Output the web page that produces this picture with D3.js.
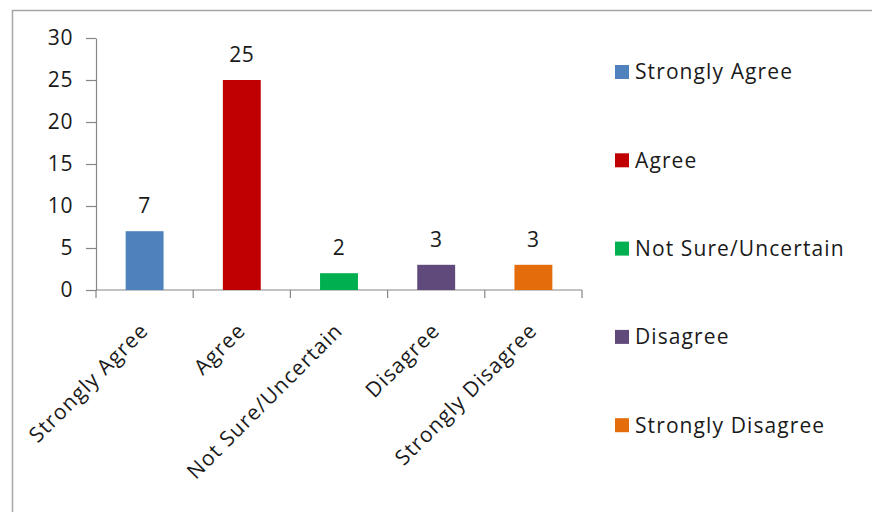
<!DOCTYPE html>
<html>
<head>
<meta charset="utf-8">
<script src="https://cdn.jsdelivr.net/npm/d3@7"></script>
<style>
  html, body { margin: 0; padding: 0; background: #fff; }
  svg { display: block; }
  text { font-family: "Open Sans", "DejaVu Sans", sans-serif; fill: #1a1a1a; }
</style>
</head>
<body>
<svg id="chart" width="872" height="512"></svg>
<script>
// Survey responses per answer option
const categories = ["Strongly Agree", "Agree", "Not Sure/Uncertain", "Disagree", "Strongly Disagree"];
const counts = [7, 25, 2, 3, 3];
const colors = ["#4F81BD", "#C00000", "#00B050", "#604A7B", "#E46C0A"];
const yTicks = [0, 5, 10, 15, 20, 25, 30];

const svg = d3.select("#chart");
const fontSize = 21;

// chart frame
svg.append("rect")
  .attr("x", 12.5).attr("y", 10.5)
  .attr("width", 900).attr("height", 600)
  .attr("fill", "none").attr("stroke", "#a6a6a6").attr("stroke-width", 1.5);

const plot = { left: 96, right: 582, top: 38, bottom: 290 };

const x = d3.scaleBand()
  .domain(categories)
  .range([plot.left, plot.right])
  .paddingInner(0.61)
  .paddingOuter(0.305);

const y = d3.scaleLinear()
  .domain([0, 30])
  .range([plot.bottom, plot.top]);

// y axis
const yAxis = svg.append("g")
  .attr("transform", `translate(${plot.left},0)`)
  .call(d3.axisLeft(y).tickValues(yTicks).tickSize(10).tickPadding(13).tickSizeOuter(0));
yAxis.select(".domain").attr("stroke", "#868686").attr("stroke-width", 1.2);
yAxis.selectAll(".tick line").attr("stroke", "#868686").attr("stroke-width", 1.2);
yAxis.selectAll(".tick text")
  .attr("font-size", fontSize)
  .attr("font-family", "Open Sans, sans-serif")
  .attr("letter-spacing", 0.6)
  .attr("fill", "#1a1a1a");

// x axis line and category boundary ticks
const xAxisG = svg.append("g").attr("class", "x-axis");
xAxisG.append("line")
  .attr("x1", plot.left).attr("x2", plot.right)
  .attr("y1", y(0)).attr("y2", y(0))
  .attr("stroke", "#868686").attr("stroke-width", 1.2);
const step = x.step();
const boundaries = d3.range(categories.length + 1).map(i => plot.left + i * step);
xAxisG.selectAll("line.tick")
  .data(boundaries)
  .join("line")
  .attr("class", "tick")
  .attr("x1", d => d).attr("x2", d => d)
  .attr("y1", y(0)).attr("y2", y(0) + 8)
  .attr("stroke", "#868686").attr("stroke-width", 1.2);

// category labels, rotated
xAxisG.selectAll("text.cat")
  .data(categories)
  .join("text")
  .attr("class", "cat")
  .attr("font-size", fontSize)
  .attr("letter-spacing", 1.1)
  .attr("text-anchor", "end")
  .attr("transform", d => `translate(${x(d) + x.bandwidth() / 2 + 5},${y(0) + 42}) rotate(-45)`)
  .text(d => d);

// bars
const data = categories.map((c, i) => ({ cat: c, value: counts[i], color: colors[i] }));
svg.append("g").selectAll("rect")
  .data(data)
  .join("rect")
  .attr("x", d => x(d.cat))
  .attr("width", x.bandwidth())
  .attr("y", d => y(d.value))
  .attr("height", d => y(0) - y(d.value))
  .attr("fill", d => d.color);

// value labels
svg.append("g").selectAll("text")
  .data(data)
  .join("text")
  .attr("x", d => x(d.cat) + x.bandwidth() / 2)
  .attr("y", d => y(d.value) - 18)
  .attr("text-anchor", "middle")
  .attr("font-size", fontSize)
  .attr("letter-spacing", 0.6)
  .text(d => d.value);

// legend
const legend = svg.append("g").attr("transform", "translate(615,72)");
const items = legend.selectAll("g")
  .data(data)
  .join("g")
  .attr("transform", (d, i) => `translate(0,${i * 88.3})`);
items.append("rect")
  .attr("x", 0).attr("y", -7)
  .attr("width", 14).attr("height", 14)
  .attr("fill", d => d.color);
items.append("text")
  .attr("x", 20).attr("y", 0)
  .attr("dy", "0.35em")
  .attr("font-size", fontSize)
  .attr("letter-spacing", 1.1)
  .text(d => d.cat);
</script>
</body>
</html>
